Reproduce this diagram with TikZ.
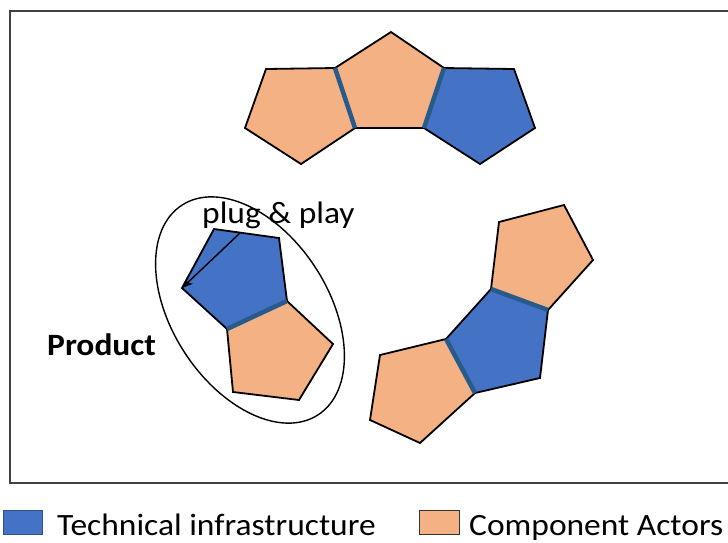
\documentclass[tikz,border=0pt]{standalone}
\usepackage{fontspec}
\setmainfont{Carlito}[FakeStretch=1.08]
\usepackage{xcolor}
\usetikzlibrary{arrows.meta, positioning}
\definecolor{techblue}{HTML}{4472C4}
\definecolor{actorpeach}{HTML}{F4B183}
\definecolor{jointblue}{HTML}{285A8C}
\definecolor{legedge}{HTML}{2F528F}

\begin{document}
\begin{tikzpicture}[
  x=1pt, y=-1pt,
  actor/.style={draw=black, line width=1.8pt, fill=actorpeach},
  tech/.style={draw=black, line width=1.8pt, fill=techblue},
  joint/.style={draw=jointblue, line width=4.5pt},
  txt/.style={font=\fontsize{31}{36}\selectfont, inner sep=0pt, anchor=base west},
  legbox/.style={draw, line width=1.2pt, minimum width=39pt, minimum height=24pt,
                 inner sep=0pt, anchor=north west},
  arrow/.style={-{Stealth[length=11pt, width=9pt]}, line width=1.4pt}
]
\useasboundingbox (0,0) rectangle (728,542);
\draw[line width=1.3pt, draw=black!75] (740,11) -- (10,11) -- (10,483) -- (740,483);

% top group
\draw[actor] (266,69) -- (335,68) -- (355,128) -- (301,164) -- (245,128) -- cycle;
\draw[actor] (391,32) -- (444,68) -- (424,128) -- (355,128) -- (335,68) -- cycle;
\draw[tech]  (444,68) -- (514,69) -- (535,128) -- (480,164) -- (424,128) -- cycle;
\draw[joint] (335,68) -- (355,128);
\draw[joint] (444,68) -- (424,128);

% product
\coordinate (pv) at (182,288);
\coordinate (plugstart) at (240,233);
\draw[tech]  (214,229) -- (279,238) -- (287,301) -- (227,329) -- (pv) -- cycle;
\draw[actor] (227,329) -- (287,301) -- (333,344) -- (299,400) -- (233,392) -- cycle;
\draw[joint] (227,329) -- (287,301);
\draw[line width=1.4pt, rotate around={-57:(250,310)}]
  (250,310) ellipse [x radius=125pt, y radius=78pt];
\draw[arrow] (plugstart) -- (pv);
\node[txt] (plug) at (202,223) {plug \& play};
\node[txt, font=\fontsize{31}{36}\selectfont\bfseries] (product) at (47,355) {Product};

% bottom-right group
\draw[actor] (499,222) -- (564,205) -- (593,260) -- (548,310) -- (491,289) -- cycle;
\draw[tech]  (491,289) -- (548,310) -- (540,378) -- (475,393) -- (446,339) -- cycle;
\draw[actor] (380,355) -- (446,339) -- (475,393) -- (420,443) -- (370,420) -- cycle;
\draw[joint] (491,289) -- (548,310);
\draw[joint] (446,339) -- (475,393);

% legend
\node[legbox, draw=legedge, fill=techblue] (legtech) at (3,510) {};
\node[txt] (techtxt) at (57,535) {Technical infrastructure};
\node[legbox, draw=black!80, fill=actorpeach, minimum width=40pt] (legactor) at (419,510) {};
\node[txt] (actortxt) at (469,535) {Component Actors};
\end{tikzpicture}
\end{document}
